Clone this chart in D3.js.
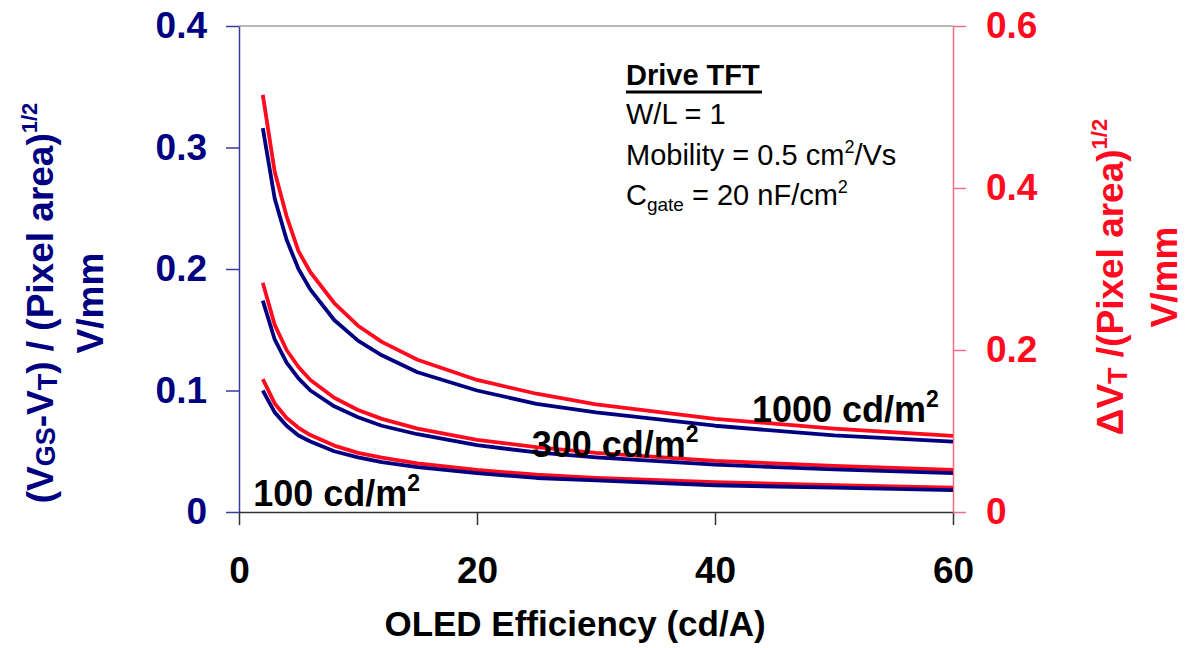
<!DOCTYPE html>
<html>
<head>
<meta charset="utf-8">
<script src="https://cdn.jsdelivr.net/npm/d3@7"></script>
<style>
  body { margin: 0; background: #fff; }
  text { font-family: "Liberation Sans", Arial, sans-serif; }
  .tick text { font-weight: bold; font-size: 37px; }
</style>
</head>
<body>
<div id="chart"></div>
<script>
// ---------------- data ----------------
var efficiency = [2, 3, 4, 5, 6, 8, 10, 12, 15, 20, 25, 30, 40, 50, 60];

// (VGS-VT)/(pixel area)^1/2, left axis (blue)
var vgs1000 = [0.316, 0.258, 0.224, 0.200, 0.183, 0.158, 0.141, 0.129, 0.115, 0.100, 0.089, 0.082, 0.071, 0.063, 0.058];
var vgs300  = [0.174, 0.142, 0.123, 0.110, 0.100, 0.087, 0.078, 0.071, 0.064, 0.055, 0.049, 0.045, 0.039, 0.035, 0.032];
var vgs100  = [0.100, 0.082, 0.071, 0.063, 0.058, 0.050, 0.045, 0.041, 0.037, 0.032, 0.028, 0.026, 0.022, 0.020, 0.018];

// dVT/(pixel area)^1/2, right axis (red)
var dvt1000 = [0.515, 0.420, 0.365, 0.322, 0.296, 0.258, 0.230, 0.210, 0.188, 0.163, 0.146, 0.133, 0.115, 0.103, 0.094];
var dvt300  = [0.283, 0.231, 0.200, 0.179, 0.163, 0.141, 0.126, 0.115, 0.103, 0.089, 0.080, 0.073, 0.063, 0.057, 0.052];
var dvt100  = [0.164, 0.134, 0.116, 0.104, 0.095, 0.082, 0.073, 0.067, 0.060, 0.052, 0.046, 0.042, 0.037, 0.033, 0.030];

var xTicks = [0, 20, 40, 60];
var leftTicks = [0, 0.1, 0.2, 0.3, 0.4];
var rightTicks = [0, 0.2, 0.4, 0.6];

var curveLabels = [
  {text: "1000 cd/m", x: 43.1, y: 0.074},
  {text: "300 cd/m",  x: 24.6, y: 0.045},
  {text: "100 cd/m",  x: 1.2,  y: 0.005}
];

var blue = "#000080", red = "#ff0a1e";

// ---------------- svg and scales ----------------
var W = 1186, H = 648;
var svg = d3.select("#chart").append("svg")
  .attr("width", W).attr("height", H);

var x = d3.scaleLinear().domain([0, 60]).range([239, 953]);
var yL = d3.scaleLinear().domain([0, 0.4]).range([512, 26]);
var yR = d3.scaleLinear().domain([0, 0.6]).range([512, 26]);

// top border of the plot area
svg.append("line")
  .attr("x1", x(0)).attr("x2", x(60))
  .attr("y1", yL(0.4)).attr("y2", yL(0.4))
  .attr("stroke", "#a0a0a0").attr("stroke-width", 1.5);

// ---------------- axes ----------------
var fmt = function(d) { return d === 0 ? "0" : d3.format(".1f")(d); };

var gx = svg.append("g")
  .attr("transform", "translate(0," + yL(0) + ")")
  .call(d3.axisBottom(x).tickValues(xTicks).tickSize(13).tickPadding(32).tickSizeOuter(0));
gx.select(".domain").attr("stroke", "#333").attr("stroke-width", 1.5);
gx.selectAll(".tick line").attr("stroke", "#333").attr("stroke-width", 1.5);
gx.selectAll(".tick text").attr("fill", "#000");

var gl = svg.append("g")
  .attr("transform", "translate(" + x(0) + ",0)")
  .call(d3.axisLeft(yL).tickValues(leftTicks).tickFormat(fmt).tickSize(13).tickPadding(19).tickSizeOuter(0));
gl.select(".domain").attr("stroke", "#3b3b9c").attr("stroke-width", 1.5);
gl.selectAll(".tick line").attr("stroke", "#3b3b9c").attr("stroke-width", 1.5);
gl.selectAll(".tick text").attr("fill", blue);

var gr = svg.append("g")
  .attr("transform", "translate(" + x(60) + ",0)")
  .call(d3.axisRight(yR).tickValues(rightTicks).tickFormat(fmt).tickSize(13).tickPadding(20).tickSizeOuter(0));
gr.select(".domain").attr("stroke", "#f07080").attr("stroke-width", 1.5);
gr.selectAll(".tick line").attr("stroke", "#f07080").attr("stroke-width", 1.5);
gr.selectAll(".tick text").attr("fill", red);

// ---------------- curves ----------------
function series(vals) {
  return efficiency.map(function(e, i) { return {x: e, y: vals[i]}; });
}
var lineL = d3.line().x(function(d) { return x(d.x); }).y(function(d) { return yL(d.y); });
var lineR = d3.line().x(function(d) { return x(d.x); }).y(function(d) { return yR(d.y); });

[dvt1000, dvt300, dvt100].forEach(function(v) {
  svg.append("path").attr("d", lineR(series(v)))
    .attr("fill", "none").attr("stroke", red).attr("stroke-width", 3.8)
    .attr("stroke-linejoin", "round");
});
[vgs1000, vgs300, vgs100].forEach(function(v) {
  svg.append("path").attr("d", lineL(series(v)))
    .attr("fill", "none").attr("stroke", blue).attr("stroke-width", 3.8)
    .attr("stroke-linejoin", "round");
});

// ---------------- curve labels ----------------
curveLabels.forEach(function(c) {
  var t = svg.append("text")
    .attr("x", x(c.x)).attr("y", yL(c.y))
    .attr("font-size", 36).attr("font-weight", "bold").attr("fill", "#000");
  t.append("tspan").text(c.text);
  t.append("tspan").attr("font-size", 23).attr("dy", -15).text("2");
});

// ---------------- axis titles ----------------
svg.append("text")
  .attr("x", 575).attr("y", 636)
  .attr("text-anchor", "middle")
  .attr("font-size", 35).attr("font-weight", "bold").attr("fill", "#000")
  .text("OLED Efficiency (cd/A)");

// left title
var lt = svg.append("g").attr("transform", "translate(0,303) rotate(-90)");
var l1 = lt.append("text").attr("x", 0).attr("y", 53)
  .attr("text-anchor", "middle").attr("font-size", 37).attr("font-weight", "bold").attr("fill", blue);
l1.append("tspan").text("(V");
l1.append("tspan").attr("font-size", 27).attr("dy", 2).text("GS");
l1.append("tspan").attr("dy", -2).text("-V");
l1.append("tspan").attr("font-size", 27).attr("dy", 4).text("T");
l1.append("tspan").attr("dy", -4).text(") / (Pixel area)");
l1.append("tspan").attr("font-size", 22).attr("dy", -16).text("1/2");
lt.append("text").attr("x", 0).attr("y", 103)
  .attr("text-anchor", "middle").attr("font-size", 37).attr("font-weight", "bold").attr("fill", blue)
  .text("V/mm");

// right title
var rt = svg.append("g").attr("transform", "translate(0,277) rotate(-90)");
var r1 = rt.append("text").attr("x", 0).attr("y", 1123)
  .attr("text-anchor", "middle").attr("font-size", 37).attr("font-weight", "bold").attr("fill", red);
r1.append("tspan").text("ΔV");
r1.append("tspan").attr("font-size", 27).attr("dy", 4).text("T");
r1.append("tspan").attr("dy", -4).text(" /(Pixel area)");
r1.append("tspan").attr("font-size", 22).attr("dy", -16).text("1/2");
rt.append("text").attr("x", 0).attr("y", 1177)
  .attr("text-anchor", "middle").attr("font-size", 37).attr("font-weight", "bold").attr("fill", red)
  .text("V/mm");

// ---------------- Drive TFT note ----------------
var note = svg.append("g").attr("transform", "translate(626,0)");
note.append("text").attr("x", 0).attr("y", 85)
  .attr("font-size", 29).attr("font-weight", "bold").attr("fill", "#000")
  .text("Drive TFT");
note.append("line").attr("x1", 0).attr("x2", 136).attr("y1", 92).attr("y2", 92)
  .attr("stroke", "#000").attr("stroke-width", 3);
note.append("text").attr("x", 0).attr("y", 124)
  .attr("font-size", 29).attr("fill", "#000").text("W/L = 1");
var m = note.append("text").attr("x", 0).attr("y", 165)
  .attr("font-size", 29).attr("fill", "#000");
m.append("tspan").text("Mobility = 0.5 cm");
m.append("tspan").attr("font-size", 18).attr("dy", -12).text("2");
m.append("tspan").attr("dy", 12).text("/Vs");
var cg = note.append("text").attr("x", 0).attr("y", 205)
  .attr("font-size", 29).attr("fill", "#000");
cg.append("tspan").text("C");
cg.append("tspan").attr("font-size", 19).attr("dy", 6).text("gate");
cg.append("tspan").attr("dy", -6).text(" = 20 nF/cm");
cg.append("tspan").attr("font-size", 18).attr("dy", -12).text("2");
</script>
</body>
</html>
